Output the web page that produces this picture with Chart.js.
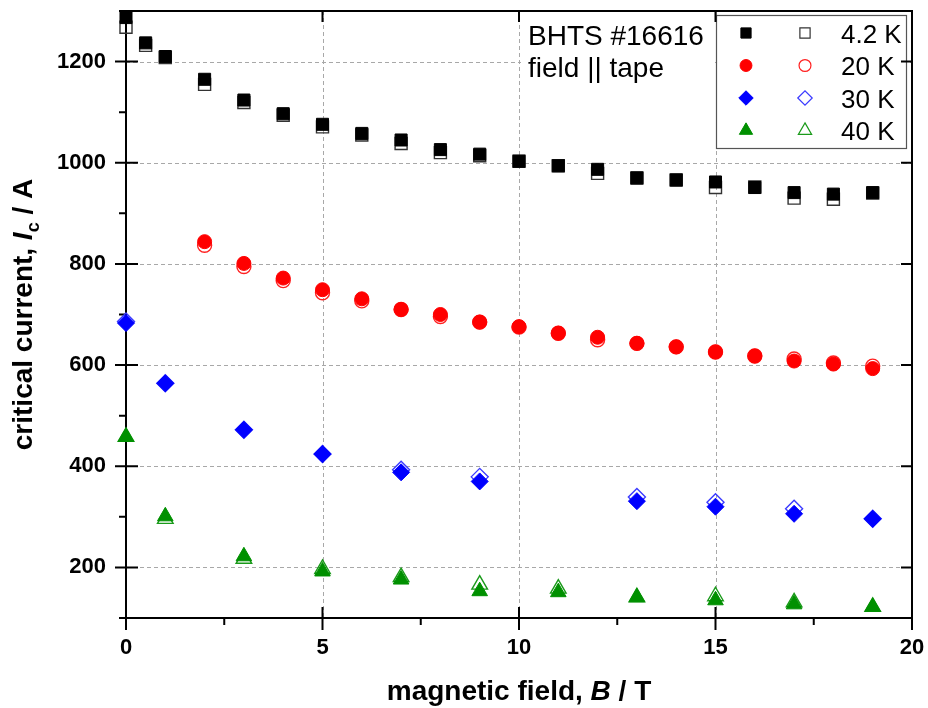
<!DOCTYPE html>
<html><head><meta charset="utf-8">
<script src="https://cdn.jsdelivr.net/npm/chart.js@4/dist/chart.umd.min.js"></script>
<style>html,body{margin:0;padding:0;background:#fff;}#wrap{width:928px;height:708px;position:relative;}</style>
</head><body><div id="wrap"><canvas id="c" width="928" height="708"></canvas></div>
<script>
// ---- data ----
const field42 = [0,0.5,1,2,3,4,5,6,7,8,9,10,11,12,13,14,15,16,17,18,19];
const ic42Filled = [1287,1237,1210,1165,1124,1097,1076,1058,1045,1026,1017,1003,994,987,970,966,962,951,941,938,941];
const ic42Open   = [1268,1232,1208,1155,1119,1094,1071,1055,1038,1020,1014,1003,994,979,970,966,951,952,930,928,940];

const field20 = [2,3,4,5,6,7,8,9,10,11,12,13,14,15,16,17,18,19];
const ic20Filled = [844,801,772,749,731,710,700,685,676,663,655,643,636,626,618,608,602,593];
const ic20Open   = [837,795,767,743,727,710,696,685,675,663,650,643,636,626,618,612,604,598];

const field30 = [0,1,3,5,7,9,13,15,17,19];
const ic30Filled = [683,564,472,424,388,370,331,320,306,296];
const ic30Open   = [686,564,472,424,393,379,339,329,316,296];

const field40 = [0,1,3,5,7,9,11,13,15,17,19];
const ic40Filled = [458,301,222,192,176,153,151,141,135,127,122];
const ic40Open   = [458,296,217,197,181,166,158,141,143,131,122];

const xTickValues = [0,5,10,15,20];
const xMinorValues = [2.5,7.5,12.5,17.5];
const yTickValues = [200,400,600,800,1000,1200];
const yMinorValues = [100,300,500,700,900,1100,1300];
const legendLabels = ['4.2 K','20 K','30 K','40 K'];
const annotationLines = ['BHTS #16616','field || tape'];
const xTitleParts = [['magnetic field, ',false],['B',true],[' / T',false]];
const yTitleParts = ['critical current, ','I','c',' / A'];

// ---- styles ----
const FONT = '"Liberation Sans", Arial, sans-serif';
const series = [
  {name:'4.2 K', x:field42, f:ic42Filled, o:ic42Open, color:'#000000', open:'#333333', style:'rect', r:8.5},
  {name:'20 K',  x:field20, f:ic20Filled, o:ic20Open, color:'#ff0000', open:'#ff2020', style:'circle', r:7},
  {name:'30 K',  x:field30, f:ic30Filled, o:ic30Open, color:'#0000ff', open:'#3a3aff', style:'rectRot', r:8.5},
  {name:'40 K',  x:field40, f:ic40Filled, o:ic40Open, color:'#009000', open:'#1a9a1a', style:'triangle', r:9}
];
const pts = (xs, ys) => xs.map((v,i)=>({x:v, y:ys[i]}));
const datasets = [];
series.forEach(s => datasets.push({label:s.name, data:pts(s.x,s.f), pointStyle:s.style, pointRadius:s.r, pointHoverRadius:s.r,
  backgroundColor:s.color, borderColor:s.color, pointBorderWidth:1, showLine:false, clip:false}));
series.forEach(s => datasets.push({label:s.name+' open', data:pts(s.x,s.o), pointStyle:s.style, pointRadius:s.r, pointHoverRadius:s.r,
  backgroundColor:'rgba(0,0,0,0)', borderColor:s.open, pointBorderWidth:1.4, showLine:false, clip:false}));

const deco = {
  id:'deco',
  beforeDatasetsDraw(chart){
    const ctx = chart.ctx, xs = chart.scales.x, ys = chart.scales.y, a = chart.chartArea;
    ctx.save();
    // dashed grid
    ctx.strokeStyle = '#a8a8a8'; ctx.lineWidth = 1; ctx.setLineDash([4,3]);
    xTickValues.forEach(v => { const p = Math.round(xs.getPixelForValue(v))+0.5; if (p>a.left+2 && p<a.right-2){ctx.beginPath();ctx.moveTo(p,a.top);ctx.lineTo(p,a.bottom);ctx.stroke();}});
    yTickValues.forEach(v => { const p = Math.round(ys.getPixelForValue(v))+0.5; if (p>a.top+2 && p<a.bottom-2){ctx.beginPath();ctx.moveTo(a.left,p);ctx.lineTo(a.right,p);ctx.stroke();}});
    ctx.setLineDash([]);
    // white background behind annotation text
    ctx.fillStyle = '#fff';
    ctx.fillRect(xs.getPixelForValue(10)+2, a.top+2, 194, 72);
    // legend frame
    ctx.fillRect(716, 15, 191, 134);
    ctx.strokeStyle = '#555'; ctx.lineWidth = 1.2;
    ctx.strokeRect(716.5, 15.5, 190, 133);
    // frame
    ctx.strokeStyle = '#000'; ctx.lineWidth = 2;
    ctx.strokeRect(a.left, a.top, a.right-a.left, a.bottom-a.top);
    // ticks
    ctx.beginPath();
    xTickValues.forEach(v => { const p = xs.getPixelForValue(v);
      ctx.moveTo(p, a.bottom-11); ctx.lineTo(p, a.bottom+12);
      ctx.moveTo(p, a.top); ctx.lineTo(p, a.top+11); });
    xMinorValues.forEach(v => { const p = xs.getPixelForValue(v);
      ctx.moveTo(p, a.bottom); ctx.lineTo(p, a.bottom+7); });
    yTickValues.forEach(v => { const p = ys.getPixelForValue(v);
      ctx.moveTo(a.left-11, p); ctx.lineTo(a.left+12, p);
      ctx.moveTo(a.right, p); ctx.lineTo(a.right-11, p); });
    yMinorValues.forEach(v => { const p = ys.getPixelForValue(v);
      ctx.moveTo(a.left-7, p); ctx.lineTo(a.left, p); });
    ctx.stroke();
    ctx.restore();
  },
  afterDatasetsDraw(chart){
    const ctx = chart.ctx, a = chart.chartArea;
    ctx.save();
    ctx.fillStyle = '#000';
    // annotation
    ctx.font = '28px ' + FONT; ctx.textBaseline = 'alphabetic'; ctx.textAlign = 'left';
    ctx.fillText(annotationLines[0], 528, 45);
    ctx.fillText(annotationLines[1], 528, 77);
    // legend
    const rows = [33, 65.5, 98, 130.5];
    series.forEach((s,i) => {
      const y = rows[i];
      ctx.fillStyle = s.color; ctx.strokeStyle = s.color; ctx.lineWidth = 1;
      Chart.helpers.drawPoint(ctx, {pointStyle:s.style, radius:s.r*0.85, rotation:0, borderWidth:1}, 746, y);
      ctx.fillStyle = 'rgba(0,0,0,0)'; ctx.strokeStyle = s.open; ctx.lineWidth = 1.2;
      Chart.helpers.drawPoint(ctx, {pointStyle:s.style, radius:s.r*0.85, rotation:0, borderWidth:1.2}, 805, y);
      ctx.fillStyle = '#000'; ctx.font = '26px ' + FONT; ctx.textAlign='left'; ctx.textBaseline='alphabetic';
      ctx.fillText(legendLabels[i], 841, y + 9.5);
    });
    // x title
    const cx = (a.left + a.right)/2;
    let total = 0;
    xTitleParts.forEach(([t,it]) => { ctx.font = (it?'italic ':'') + 'bold 28px ' + FONT; total += ctx.measureText(t).width; });
    let x = cx - total/2;
    ctx.textAlign = 'left'; ctx.textBaseline = 'alphabetic';
    xTitleParts.forEach(([t,it]) => { ctx.font = (it?'italic ':'') + 'bold 28px ' + FONT; ctx.fillText(t, x, 700); x += ctx.measureText(t).width; });
    // y title (rotated)
    const cy = (a.top + a.bottom)/2;
    ctx.translate(32, cy); ctx.rotate(-Math.PI/2);
    const fN = 'bold 28px ' + FONT, fI = 'italic bold 28px ' + FONT, fS = 'bold 18px ' + FONT;
    const segs = [[yTitleParts[0],fN,0],[yTitleParts[1],fI,0],[yTitleParts[2],fS,7],[yTitleParts[3],fN,0]];
    let tw = 0; segs.forEach(([t,f]) => { ctx.font = f; tw += ctx.measureText(t).width; });
    let px = -tw/2;
    segs.forEach(([t,f,dy]) => { ctx.font = f; ctx.fillText(t, px, dy); px += ctx.measureText(t).width; });
    ctx.restore();
  }
};

const zeroPad = (s) => { s.paddingTop = 0; s.paddingBottom = 0; s.paddingLeft = 0; s.paddingRight = 0; };

new Chart(document.getElementById('c'), {
  type:'scatter',
  data:{datasets},
  options:{
    responsive:false, animation:false, devicePixelRatio:1,
    layout:{padding:{left:0, right:16, top:11, bottom:0}},
    plugins:{legend:{display:false}, tooltip:{enabled:false}, title:{display:false}},
    scales:{
      x:{type:'linear', min:0, max:20,
        afterBuildTicks:(s)=>{ s.ticks = xTickValues.map(v=>({value:v})); },
        afterFit:(s)=>{ s.height = 90; zeroPad(s); },
        grid:{display:false, drawTicks:false}, border:{display:false},
        ticks:{color:'#000', font:{family:FONT, size:22, weight:'bold'}, padding:17, maxRotation:0, autoSkip:false,
          callback:(v)=>String(v)}},
      y:{type:'linear', min:100, max:1300,
        afterBuildTicks:(s)=>{ s.ticks = yTickValues.map(v=>({value:v})); },
        afterFit:(s)=>{ s.width = 126; zeroPad(s); },
        grid:{display:false, drawTicks:false}, border:{display:false},
        ticks:{color:'#000', font:{family:FONT, size:22, weight:'bold'}, padding:20, autoSkip:false,
          callback:(v)=>String(v)}}
    }
  },
  plugins:[deco]
});
</script></body></html>
